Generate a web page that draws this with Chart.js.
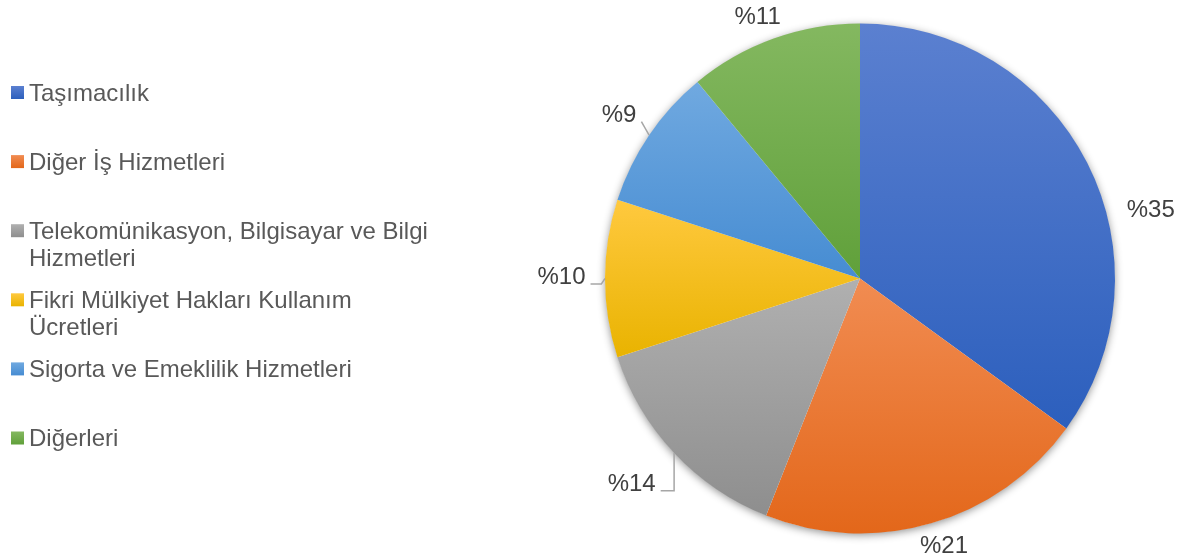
<!DOCTYPE html>
<html>
<head>
<meta charset="utf-8">
<script src="https://cdn.jsdelivr.net/npm/chart.js@4/dist/chart.umd.min.js"></script>
<style>
  html, body { margin: 0; padding: 0; background: #fff; }
  #wrap { width: 1187px; height: 558px; }
</style>
</head>
<body>
<div id="wrap"><canvas id="shares" width="1187" height="558"></canvas></div>
<script>
// service export shares by type
const categories = [
    ['Taşımacılık'],
    ['Diğer İş Hizmetleri'],
    ['Telekomünikasyon, Bilgisayar ve Bilgi', 'Hizmetleri'],
    ['Fikri Mülkiyet Hakları Kullanım', 'Ücretleri'],
    ['Sigorta ve Emeklilik Hizmetleri'],
    ['Diğerleri'],
]
const shares = [35, 21, 14, 10, 9, 11]
const valuePrefix = '%'

const topColors = ['#5b80d0', '#f18c52', '#b0b0b0', '#ffc93f', '#70a9e0', '#84b860']
const bottomColors = ['#2c5fbd', '#e3671a', '#8e8e8e', '#e9b300', '#468cd2', '#60a03a']

const FONT = '"Liberation Sans", Arial, sans-serif'

// vertical extent of a pie sector, used for the per-slice gradient
function sectorSpan(cx, cy, r, a0, a1) {
    let ys = [cy, cy + r * Math.sin(a0), cy + r * Math.sin(a1)]
    for (let k = -2; k <= 4; k++) {
        const a = k * Math.PI / 2
        if (a > a0 && a < a1) ys.push(cy + r * Math.sin(a))
    }
    return [Math.min(...ys), Math.max(...ys)]
}

function sliceFill(ctx) {
    const chart = ctx.chart,
        area = chart.chartArea,
        i = ctx.dataIndex
    if (!area || i === undefined) return topColors[i || 0]
    const data = chart.data.datasets[0].data,
        total = data.reduce((a, b) => a + b, 0),
        cx = (area.left + area.right) / 2,
        cy = (area.top + area.bottom) / 2,
        r = Math.min(area.width, area.height) / 2
    let a0 = -Math.PI / 2
    for (let k = 0; k < i; k++) a0 += data[k] / total * Math.PI * 2
    const a1 = a0 + data[i] / total * Math.PI * 2
    const [y0, y1] = sectorSpan(cx, cy, r, a0, a1)
    const g = chart.ctx.createLinearGradient(0, y0, 0, y1)
    g.addColorStop(0, topColors[i])
    g.addColorStop(1, bottomColors[i])
    return g
}

// soft shadow under the whole pie
const pieShadow = {
    id: 'pieShadow',
    beforeDatasetsDraw(chart) {
        const arc = chart.getDatasetMeta(0).data[0]
        if (!arc) return
        const ctx = chart.ctx
        ctx.save()
        ctx.shadowColor = 'rgba(0,0,0,0.45)'
        ctx.shadowBlur = 9
        ctx.shadowOffsetY = 2
        ctx.fillStyle = '#fff'
        ctx.beginPath()
        ctx.arc(arc.x, arc.y, arc.outerRadius - 0.5, 0, Math.PI * 2)
        ctx.fill()
        ctx.restore()
    },
}

// percentage labels outside the slices, some with leader lines
const sliceLabels = {
    id: 'sliceLabels',
    afterDatasetsDraw(chart, args, opts) {
        const ctx = chart.ctx,
            meta = chart.getDatasetMeta(0),
            data = chart.data.datasets[0].data
        ctx.save()
        ctx.font = '24px ' + FONT
        meta.data.forEach((arc, i) => {
            const { x, y, startAngle, endAngle, outerRadius } = arc.getProps(
                ['x', 'y', 'startAngle', 'endAngle', 'outerRadius'], true)
            const mid = (startAngle + endAngle) / 2,
                o = opts.offsets[i],
                ang = mid + o.da * Math.PI / 180,
                dist = outerRadius + o.dr,
                lx = x + Math.cos(ang) * dist,
                ly = y + Math.sin(ang) * dist,
                text = valuePrefix + data[i],
                w = ctx.measureText(text).width
            ctx.fillStyle = '#404040'
            ctx.textAlign = 'center'
            ctx.textBaseline = 'alphabetic'
            ctx.fillText(text, lx, ly + 8.5)
            if (o.leader !== undefined) {
                const px = x + Math.cos(mid) * outerRadius,
                    py = y + Math.sin(mid) * outerRadius,
                    qx = lx + w / 2 + 5,
                    qy = ly + 8,
                    ex = px + (qx - px) * o.leader
                ctx.strokeStyle = '#a6a6a6'
                ctx.lineWidth = 1.5
                ctx.beginPath()
                ctx.moveTo(px, py)
                ctx.lineTo(ex, qy)
                ctx.lineTo(qx, qy)
                ctx.stroke()
            }
        })
        ctx.restore()
    },
}

// legend on the left, wrapped names
const sideLegend = {
    id: 'sideLegend',
    afterDraw(chart) {
        const ctx = chart.ctx,
            labels = chart.data.labels
        ctx.save()
        ctx.font = '24px ' + FONT
        ctx.textAlign = 'left'
        ctx.textBaseline = 'alphabetic'
        labels.forEach((lines, i) => {
            const yc = 92.5 + 69.1 * i
            const g = ctx.createLinearGradient(0, yc - 6.5, 0, yc + 6.5)
            g.addColorStop(0, topColors[i])
            g.addColorStop(1, bottomColors[i])
            ctx.fillStyle = g
            ctx.fillRect(11, yc - 6.5, 13, 13)
            ctx.fillStyle = '#595959'
            lines.forEach((line, j) => ctx.fillText(line, 29, yc + 8 + j * 27))
        })
        ctx.restore()
    },
}

new Chart(document.getElementById('shares'), {
    type: 'pie',
    data: {
        labels: categories,
        datasets: [
            {
                data: shares,
                backgroundColor: sliceFill,
                borderWidth: 0,
            },
        ],
    },
    options: {
        responsive: false,
        animation: false,
        layout: { padding: { left: 605, right: 72, top: 23, bottom: 24 } },
        plugins: {
            legend: { display: false },
            tooltip: { enabled: false },
            sliceLabels: {
                offsets: [
                    { da: 13.5, dr: 44 },
                    { da: -1.3, dr: 24.4 },
                    { da: 1.4, dr: 51.3, leader: 0 },
                    { da: 0.5, dr: 43.5, leader: 0.25 },
                    { da: 0.2, dr: 37, leader: 1 },
                    { da: -1.5, dr: 26.8 },
                ],
            },
        },
    },
    plugins: [pieShadow, sliceLabels, sideLegend],
})
</script>
</body>
</html>
